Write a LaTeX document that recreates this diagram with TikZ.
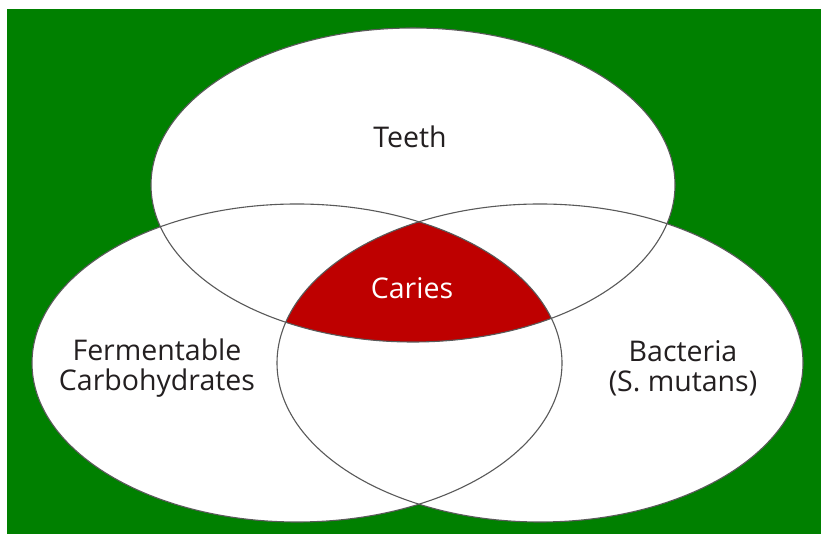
\documentclass[tikz,border=0pt]{standalone}
\usepackage{fontspec}
\setmainfont{Open Sans}
\usetikzlibrary{positioning}
\definecolor{bggreen}{RGB}{0,128,0}
\definecolor{cariesred}{RGB}{190,0,0}
\definecolor{txtgray}{RGB}{35,31,32}
\tikzset{
  setfill/.style={fill=white},
  setline/.style={draw=black!65, line width=1.1pt},
  lbl/.style={align=center, text=txtgray, font=\fontsize{28.5}{30}\selectfont, inner sep=0pt},
}

\begin{document}
\begin{tikzpicture}[x=1pt, y=1pt]
  \useasboundingbox (0,0) rectangle (821,534);
  \fill[bggreen] (7,0) rectangle (821,525);
  % set centres
  \coordinate (teethc) at (413,349);
  \coordinate (carbc) at (297,171);
  \coordinate (bactc) at (540,171);
  % white fills
  \fill[setfill] (teethc) ellipse [x radius=262, y radius=157];
  \fill[setfill] (carbc) ellipse [x radius=265, y radius=159];
  \fill[setfill] (bactc) ellipse [x radius=263, y radius=159];
  % triple overlap
  \begin{scope}
    \clip (teethc) ellipse [x radius=262, y radius=157];
    \clip (carbc) ellipse [x radius=265, y radius=159];
    \fill[cariesred] (bactc) ellipse [x radius=263, y radius=159];
  \end{scope}
  % outlines
  \draw[setline] (teethc) ellipse [x radius=262, y radius=157];
  \draw[setline] (carbc) ellipse [x radius=265, y radius=159];
  \draw[setline] (bactc) ellipse [x radius=263, y radius=159];
  % labels
  \node[lbl] (teeth) at (410,397) {Teeth};
  \node[lbl, text=white] (caries) at (412,246) {Caries};
  \node[lbl] (carb) at (157,166) {Fermentable\\Carbohydrates};
  \node[lbl] (bact) at (683,166) {Bacteria\\(S. mutans)};
\end{tikzpicture}
\end{document}
